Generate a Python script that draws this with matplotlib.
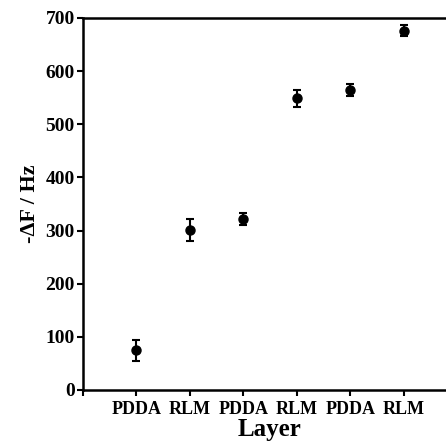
import matplotlib
matplotlib.use("Agg")
import matplotlib.pyplot as plt

layers = ["PDDA", "RLM", "PDDA", "RLM", "PDDA", "RLM"]
freq_shift = [75, 301, 322, 549, 565, 676]
freq_err = [20, 20, 12, 16, 11, 10]
y_ticks = [0, 100, 200, 300, 400, 500, 600, 700]

plt.rcParams['font.family'] = ['Liberation Serif', 'DejaVu Serif']
plt.rcParams['font.weight'] = 'bold'

fig = plt.figure(figsize=(4.46, 4.41), dpi=100)
# axes run a bit past the right edge, like in the original figure
ax = fig.add_axes([83/446, 1 - 390/441, (457 - 83)/446, (390 - 18)/441])

xpos = list(range(1, len(layers) + 1))
ax.errorbar(xpos, freq_shift, yerr=freq_err, fmt='o', color='black',
            markersize=6.5, capsize=3, elinewidth=1.5, capthick=1.5)

ax.set_xlim(0, 7)
ax.set_ylim(0, 700)
ax.set_xticks([0] + xpos)
ax.set_xticklabels([""] + layers, fontsize=13, fontweight='bold')
ax.set_yticks(y_ticks)
ax.set_yticklabels([str(v) for v in y_ticks], fontsize=14, fontweight='bold')
ax.tick_params(axis='both', direction='out', length=4, width=1.5)
ax.tick_params(axis='x', pad=4)
ax.tick_params(axis='y', pad=2)

ax.spines['right'].set_visible(False)
for s in ['left', 'bottom', 'top']:
    ax.spines[s].set_linewidth(1.8)

ax.set_xlabel("Layer", fontsize=18, fontweight='bold', labelpad=0)
ax.set_ylabel("-ΔF / Hz", fontsize=16, fontweight='bold', labelpad=4)

fig.savefig("out.png", dpi=100)
